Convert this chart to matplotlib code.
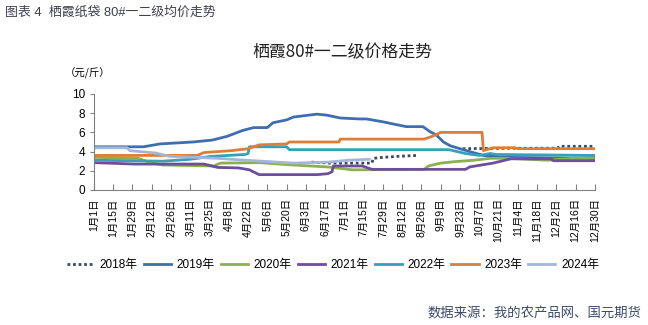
import matplotlib
matplotlib.use('Agg')
import numpy as np
import matplotlib.pyplot as plt

plt.rcParams['font.family'] = ['Liberation Sans', 'Noto Sans CJK SC', 'DejaVu Sans']

# x positions are day of year (0 = 1月1日)
tick_labels = ['1月1日', '1月15日', '1月29日', '2月12日', '2月26日', '3月11日', '3月25日',
               '4月8日', '4月22日', '5月6日', '5月20日', '6月3日', '6月17日', '7月1日',
               '7月15日', '7月29日', '8月12日', '8月26日', '9月9日', '9月23日', '10月7日',
               '10月21日', '11月4日', '11月18日', '12月2日', '12月16日', '12月30日']

# 2018 has gaps -> nan
d2018 = [158, 172, 190, 202, 203, 210, 220, 235, 236, 268, 300, 337, 338, 364]
v2018 = [2.9, 2.8, 2.8, 2.8, 3.3, 3.4, 3.5, 3.6, np.nan, 4.3, 4.35, 4.35, 4.55, 4.55]

d2019 = [0, 36, 48, 72, 86, 97, 108, 116, 126, 130, 140, 145, 162, 169, 179, 193,
         198, 210, 220, 227, 239, 244, 249, 254, 259, 266, 273, 283, 300, 364]
v2019 = [4.5, 4.5, 4.8, 5.0, 5.2, 5.6, 6.2, 6.5, 6.5, 7.0, 7.3, 7.6, 7.9, 7.8, 7.5, 7.4,
         7.4, 7.1, 6.8, 6.6, 6.6, 6.1, 5.7, 5.0, 4.6, 4.3, 4.0, 3.6, 3.4, 3.3]

d2020 = [0, 32, 40, 50, 87, 92, 120, 145, 170, 188, 240, 243, 252, 262, 276, 288, 300, 330, 348, 364]
v2020 = [3.4, 3.3, 2.9, 2.6, 2.5, 2.8, 2.85, 2.6, 2.4, 2.1, 2.15, 2.5, 2.8, 2.95, 3.1, 3.3, 3.3, 3.1, 3.3, 3.4]

d2021 = [0, 30, 80, 90, 105, 113, 120, 162, 170, 173, 174, 195, 202, 270, 273, 290, 303, 332, 334, 364]
v2021 = [2.85, 2.7, 2.7, 2.35, 2.3, 2.1, 1.6, 1.6, 1.7, 1.9, 2.5, 2.5, 2.15, 2.15, 2.4, 2.8, 3.25, 3.25, 3.05, 3.05]

d2022 = [0, 50, 70, 85, 110, 112, 113, 140, 142, 258, 270, 280, 288, 292, 364]
v2022 = [3.1, 3.0, 3.2, 3.5, 3.7, 3.8, 4.5, 4.5, 4.2, 4.2, 3.8, 3.6, 3.8, 3.7, 3.6]

d2023 = [0, 75, 80, 100, 112, 120, 140, 142, 178, 179, 240, 246, 252, 282, 283, 290, 306, 308, 364]
v2023 = [3.6, 3.6, 3.9, 4.1, 4.3, 4.7, 4.8, 5.0, 5.0, 5.3, 5.3, 5.6, 6.0, 6.0, 4.1, 4.4, 4.4, 4.3, 4.3]

d2024 = [0, 24, 26, 45, 55, 90, 110, 145, 170, 185, 200]
v2024 = [4.4, 4.4, 4.1, 3.85, 3.5, 3.3, 3.1, 2.8, 2.9, 3.1, 3.2]

fig = plt.figure(figsize=(6.48, 3.25), dpi=100)
ax = fig.add_axes([0.145, 0.4154, 0.773, 0.2954])

lw = 2.0
ax.plot(d2018, v2018, color='#3c4a5e', lw=lw, ls=(0, (1, 1)), label='2018年')
ax.plot(d2019, v2019, color='#3f6eb0', lw=lw, label='2019年')
ax.plot(d2020, v2020, color='#8cb050', lw=lw, label='2020年')
ax.plot(d2021, v2021, color='#6c4e9a', lw=lw, label='2021年')
ax.plot(d2022, v2022, color='#35a0b8', lw=lw, label='2022年')
ax.plot(d2023, v2023, color='#e07d35', lw=lw, label='2023年')
ax.plot(d2024, v2024, color='#a3b6da', lw=lw, label='2024年')

ax.set_xlim(0, 364)
ax.set_ylim(0, 10)
ax.set_yticks(range(0, 11, 2))
ax.set_xticks(np.arange(len(tick_labels)) * 14)
ax.set_xticklabels(tick_labels, rotation=90, fontsize=7.5)
ax.tick_params(axis='y', labelsize=8.5, direction='out', length=3, color='#808080')
ax.tick_params(axis='x', direction='in', length=4, color='#808080', pad=6)
for s in ['top', 'right']:
    ax.spines[s].set_visible(False)
for s in ['left', 'bottom']:
    ax.spines[s].set_color('#808080')

fig.text(0.008, 0.96, '图表 4  栖霞纸袋 80#一二级均价走势', fontsize=9.3, color='#404050', va='center')
fig.text(0.528, 0.84, '栖霞80#一二级价格走势', fontsize=12.2, ha='center', va='center',
         family=['Noto Sans CJK SC'], color='#222222')
fig.text(0.1, 0.775, '（元/斤）', fontsize=7.5, va='center', family=['Noto Sans CJK SC'])
fig.text(0.99, 0.035, '数据来源：我的农产品网、国元期货', fontsize=9.6, color='#3b4a6b',
         ha='right', va='center')

fig.legend(loc='center', bbox_to_anchor=(0.514, 0.185), ncol=7, frameon=False, fontsize=8.5,
           handlelength=2.3, columnspacing=0.5, handletextpad=0.5)

fig.savefig('out.png', dpi=100)
